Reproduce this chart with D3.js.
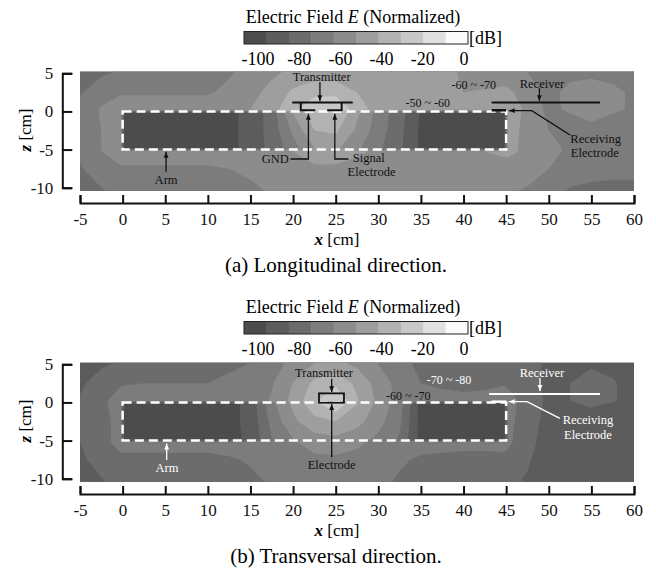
<!DOCTYPE html>
<html>
<head>
<meta charset="utf-8">
<script src="https://cdn.jsdelivr.net/npm/d3@7"></script>
<style>
  body { margin: 0; background: #fff; }
  svg text { font-family: 'Liberation Serif', 'Times New Roman', Times, serif; }
</style>
</head>
<body>
<script>
const gridX = [-5, -2.5, -0.25, 0.25, 2.5, 5, 7.5, 10, 12.5, 15, 17.5, 20, 22.5, 25, 27.5,
               30, 32.5, 35, 37.5, 40, 42.5, 44.75, 45.25, 47.5, 50, 52.5, 55, 57.5, 60];
const gridZ = [5.2, 2.5, 0.25, -0.25, -2.5, -4.75, -5.25, -7.5, -10.4];

// (a) longitudinal, dB, one row per gridZ
const longField = [
  [-76,-72,-69,-68.5,-67,-66,-65,-64,-61,-57,-52,-48,-46,-46,-46,-46,-47,-47,-48,-51,-55,-57,-58,-60,-62,-63,-64,-66,-68],
  [-71,-64,-61,-61,-61,-61,-61,-61,-58,-53,-47,-38,-33,-33,-40,-45,-46,-47,-48,-50,-49,-47,-48,-55,-63,-57,-52,-56,-63],
  [-67,-59,-55,-55,-55,-55,-55,-55,-54,-50,-44,-32,-22,-20,-35,-44,-46,-47,-48,-48,-46,-42,-44,-52,-63,-58,-52,-56,-63],
  [-67,-59,-55,-95,-95,-95,-95,-95,-93,-86,-76,-50,-32,-30,-48,-64,-76,-91,-95,-95,-95,-95,-44,-53,-62,-60,-57,-60,-64],
  [-68,-60,-56,-95,-95,-95,-95,-95,-93,-86,-76,-58,-40,-38,-52,-65,-77,-92,-95,-95,-95,-95,-46,-53,-60,-62,-63,-64,-66],
  [-68,-60,-56,-95,-95,-95,-95,-95,-93,-86,-77,-64,-50,-48,-58,-68,-78,-92,-95,-95,-95,-95,-48,-52,-57,-62,-64,-65,-66],
  [-68,-60,-56,-56,-56,-56,-56,-56,-55,-54,-52,-50,-47,-47,-49,-51,-52,-53,-53,-52,-50,-48,-48,-52,-57,-62,-64,-65,-66],
  [-71,-64,-61,-61,-61,-61,-61,-61,-60,-58,-55,-53,-51,-51,-52,-54,-55,-56,-56,-56,-55,-54,-54,-56,-60,-65,-67,-68,-68],
  [-76,-71,-67,-67,-66,-66,-66,-65,-64,-62,-59,-57,-56,-56,-57,-58,-58,-59,-59,-59,-59,-59,-59,-61,-66,-71,-72,-72,-72]
];

// (b) transversal
const transField = [
  [-86,-82,-79,-78.5,-77,-76,-75,-74,-72,-70,-64.5,-57,-50,-48,-52.5,-60.5,-67.5,-72,-73,-74,-75,-76,-76,-78,-81,-82,-82,-83,-85],
  [-82,-75,-71,-70.5,-70,-70,-70,-70,-68,-67,-61,-49.5,-37.5,-32,-42.5,-54,-64,-70,-71,-72,-72,-71,-72,-77,-82,-80,-75,-79,-84],
  [-79,-72,-66,-66,-66,-66,-66,-66,-65,-65,-59,-47,-32,-20,-39,-52.5,-63,-67,-68,-68,-67,-64,-66,-74,-82,-80,-75,-79,-84],
  [-79,-72,-66,-95,-95,-95,-95,-95,-93,-87,-63,-48,-33,-22,-40,-53,-66,-94,-95,-95,-95,-95,-66,-75,-82,-81,-79,-81,-84],
  [-80,-73,-67,-95,-95,-95,-95,-95,-93,-87,-67,-52,-43.5,-40,-46.5,-56.5,-68,-94,-95,-95,-95,-95,-67,-76,-83,-84,-84,-85,-86],
  [-80,-73,-67,-95,-95,-95,-95,-95,-93,-88,-70,-60,-53.5,-52,-55.5,-62,-71,-94,-95,-95,-95,-95,-68,-77,-84,-85,-86,-86,-87],
  [-80,-73,-67,-67,-67,-67,-67,-67,-66,-66,-64,-61,-56.5,-54.5,-58,-63,-66,-67,-67,-67,-67,-66,-68,-77,-84,-85,-86,-86,-87],
  [-82,-76,-72,-72,-72,-72,-72,-72,-71,-69,-67,-64,-62,-62,-63,-66,-69,-71,-72,-73,-73,-73,-74,-79,-85,-86,-87,-87,-88],
  [-86,-81,-77,-77,-76,-76,-76,-75,-74,-72,-69,-66,-64,-64,-66,-68,-71,-74,-76,-77,-77,-78,-78,-81,-86,-87,-87,-88,-88]
];

const levels = d3.range(-100, 0, 10);
const levelColors = ['#4c4c4c', '#5c5c5c', '#6c6c6c', '#7c7c7c', '#8c8c8c',
                     '#9e9e9e', '#b2b2b2', '#c8c8c8', '#e0e0e0', '#fafafa'];
const legendLabels = [-100, -80, -60, -40, -20, 0];
const xTicks = d3.range(-5, 61, 5);
const zTicks = [5, 0, -5, -10];

const serif = "'Liberation Serif', 'Times New Roman', Times, serif";

const svg = d3.select('body').append('svg')
  .attr('width', 656)
  .attr('height', 573)
  .attr('font-family', serif);

const defs = svg.append('defs');
['black', 'white'].forEach(c => {
  defs.append('marker')
    .attr('id', 'arrow-' + c)
    .attr('viewBox', '0 0 10 10')
    .attr('refX', 10).attr('refY', 5)
    .attr('markerWidth', 6).attr('markerHeight', 6)
    .attr('markerUnits', 'userSpaceOnUse')
    .attr('orient', 'auto')
    .append('path')
      .attr('d', 'M0,1L10,5L0,9Z')
      .attr('fill', c === 'black' ? '#111' : '#fff');
});

const x = d3.scaleLinear().domain([-5, 60]).range([80, 634]);

function colorBar(dy) {
  let g = svg.append('g');
  let cb = d3.scaleLinear().domain([-100, 0]).range([244, 468]);
  g.append('text')
    .attr('x', 353).attr('y', 17 + dy).attr('dy', '0.35em')
    .attr('text-anchor', 'middle').attr('font-size', 18)
    .html('Electric Field <tspan font-style="italic">E</tspan> (Normalized)');
  g.selectAll('rect.bin')
    .data(levels)
    .enter().append('rect')
      .attr('x', d => cb(d))
      .attr('y', 31.5 + dy)
      .attr('width', cb(10) - cb(0) + 0.5)
      .attr('height', 12.5)
      .attr('fill', (d, i) => levelColors[i]);
  g.append('rect')
    .attr('x', cb(-100)).attr('y', 31.5 + dy)
    .attr('width', cb(0) - cb(-100)).attr('height', 12.5)
    .attr('fill', 'none').attr('stroke', '#222').attr('stroke-width', 1);
  g.append('text')
    .attr('x', 469).attr('y', 38 + dy).attr('dy', '0.35em')
    .attr('font-size', 18).text('[dB]');
  let lbl = d3.scaleLinear().domain([-100, 0]).range([258, 464]);
  g.selectAll('text.lbl')
    .data(legendLabels)
    .enter().append('text')
      .attr('x', d => lbl(d))
      .attr('y', 59 + dy).attr('dy', '0.35em')
      .attr('text-anchor', 'middle').attr('font-size', 18)
      .text(d => String(d));
}

function drawPanel(dy, field, caption, id) {
  let z = d3.scaleLinear().domain([5, -10]).range([73.3 + dy, 187.7 + dy]);

  defs.append('clipPath').attr('id', id)
    .append('rect')
      .attr('x', x(-5)).attr('y', z(5.2))
      .attr('width', x(60) - x(-5)).attr('height', z(-10.4) - z(5.2));

  let gx = d3.scaleLinear().domain(gridX.map((d, i) => i + 0.5)).range(gridX);
  let gz = d3.scaleLinear().domain(gridZ.map((d, i) => i + 0.5)).range(gridZ);
  let proj = d3.geoTransform({
    point: function(px, py) { this.stream.point(x(gx(px)), z(gz(py))); }
  });
  let path = d3.geoPath(proj);

  let contours = d3.contours()
    .size([gridX.length, gridZ.length])
    .thresholds(levels)(field.flat());

  svg.append('g')
    .attr('clip-path', 'url(#' + id + ')')
    .selectAll('path')
    .data(contours)
    .enter().append('path')
      .attr('d', path)
      .attr('fill', (d, i) => levelColors[i]);

  // arm outline
  svg.append('rect')
    .attr('x', x(0)).attr('y', z(0))
    .attr('width', x(45) - x(0)).attr('height', z(-5) - z(0))
    .attr('fill', 'none').attr('stroke', '#fff')
    .attr('stroke-width', 2.5).attr('stroke-dasharray', '9,5');

  // axes
  let yAxis = d3.axisLeft(z).tickValues(zTicks).tickSize(-10).tickPadding(9)
    .tickFormat(d => String(d));
  svg.append('g')
    .attr('transform', 'translate(62.3,0)')
    .call(yAxis)
    .attr('font-family', serif).attr('font-size', 17)
    .call(g => g.selectAll('path,line').attr('stroke', '#111').attr('stroke-width', 2))
    .call(g => g.selectAll('text').attr('fill', '#111'));

  let xAxis = d3.axisBottom(x).tickValues(xTicks).tickSize(-8).tickPadding(10)
    .tickFormat(d => String(d));
  svg.append('g')
    .attr('transform', 'translate(0,' + (203 + dy) + ')')
    .call(xAxis)
    .attr('font-family', serif).attr('font-size', 17)
    .call(g => g.selectAll('path,line').attr('stroke', '#111').attr('stroke-width', 2))
    .call(g => g.selectAll('text').attr('fill', '#111'));

  svg.append('text')
    .attr('transform', 'translate(25,' + (130 + dy) + ')rotate(-90)')
    .attr('text-anchor', 'middle').attr('dy', '0.35em').attr('font-size', 17)
    .html('<tspan font-style="italic" font-weight="bold">z</tspan> [cm]');

  svg.append('text')
    .attr('x', 337).attr('y', 239.5 + dy).attr('dy', '0.35em')
    .attr('text-anchor', 'middle').attr('font-size', 17)
    .html('<tspan font-style="italic" font-weight="bold">x</tspan> [cm]');

  svg.append('text')
    .attr('x', 336).attr('y', 265 + dy).attr('dy', '0.35em')
    .attr('text-anchor', 'middle').attr('font-size', 21)
    .text(caption);

  return z;
}

function line(pts, z, color, width, arrow) {
  let l = d3.line().x(d => x(d[0])).y(d => z(d[1]));
  let p = svg.append('path')
    .attr('d', l(pts))
    .attr('fill', 'none').attr('stroke', color)
    .attr('stroke-width', width);
  if (arrow) p.attr('marker-end', 'url(#arrow-' + (color === '#fff' ? 'white' : 'black') + ')');
  return p;
}

function label(str, xc, zc, z, color, anchor, size) {
  svg.append('text')
    .attr('x', x(xc)).attr('y', z(zc)).attr('dy', '0.35em')
    .attr('text-anchor', anchor || 'middle')
    .attr('font-size', size || 12.5)
    .attr('fill', color)
    .text(str);
}

// ---- (a) ----
colorBar(0);
let za = drawPanel(0, longField, '(a) Longitudinal direction.', 'clipA');
const ink = '#111';
label('Transmitter', 23.35, 4.5, za, ink);
line([[23.15, 3.85], [23.15, 1.35]], za, ink, 1.3, true);
line([[19.9, 1.17], [27, 1.17]], za, ink, 2);
line([[20.9, 1.17], [20.9, 0.15], [22.6, 0.15]], za, ink, 2);
line([[24, 0.15], [25.7, 0.15], [25.7, 1.17]], za, ink, 2);
label('GND', 19.5, -6.24, za, ink, 'end');
line([[19.7, -6.24], [21.8, -6.24], [21.8, -0.3]], za, ink, 1.3, true);
line([[26.5, -6.24], [24.9, -6.24], [24.9, -0.3]], za, ink, 1.3, true);
label('Signal', 27.0, -6.1, za, ink, 'start');
label('Electrode', 26.4, -7.95, za, ink, 'start');
label('Arm', 5.1, -8.9, za, ink);
line([[5.1, -7.9], [5.1, -5.3]], za, ink, 1.3, true);
line([[43.3, 1.17], [56, 1.17]], za, ink, 2);
label('Receiver', 49.2, 3.6, za, ink);
line([[48.9, 3.05], [48.9, 1.35]], za, ink, 1.3, true);
line([[43.3, 0.15], [45, 0.15]], za, ink, 2.5);
line([[52.5, -3.1], [48.0, 0.1], [45.3, 0.1]], za, ink, 1.3, true);
label('Receiving', 55.5, -3.5, za, ink);
label('Electrode', 55.4, -5.45, za, ink);
label('-60 ~ -70', 41.2, 3.45, za, ink, 'middle', 12);
label('-50 ~ -60', 35.8, 1.1, za, ink, 'middle', 12);

// ---- (b) ----
colorBar(290);
let zb = drawPanel(291, transField, '(b) Transversal direction.', 'clipB');
label('Transmitter', 23.63, 3.85, zb, ink);
line([[24.53, 3.1], [24.53, 1.35]], zb, ink, 1.3, true);
svg.append('rect')
  .attr('x', x(23.04)).attr('y', zb(1.19))
  .attr('width', x(25.97) - x(23.04)).attr('height', zb(-0.04) - zb(1.19))
  .attr('fill', 'none').attr('stroke', ink).attr('stroke-width', 1.8);
line([[24.53, -7.2], [24.53, -0.2]], zb, ink, 1.3, true);
label('Electrode', 24.53, -8.2, zb, ink);
label('Arm', 5.2, -8.6, zb, '#fff');
line([[5.17, -7.55], [5.17, -5.4]], zb, '#fff', 1.3, true);
line([[43.0, 1.1], [56, 1.1]], zb, '#fff', 2);
label('Receiver', 49.2, 3.85, zb, '#fff');
line([[48.97, 3.2], [48.97, 1.5]], zb, '#fff', 1.3, true);
line([[43.3, 0.1], [45, 0.1]], zb, '#fff', 2.5);
line([[51.3, -2.08], [47.45, 0.1], [45.3, 0.1]], zb, '#fff', 1.3, true);
label('Receiving', 54.6, -2.3, zb, '#fff');
label('Electrode', 54.6, -4.25, zb, '#fff');
label('-70 ~ -80', 38.3, 2.94, zb, '#fff', 'middle', 12);
label('-60 ~ -70', 33.5, 0.84, zb, ink, 'middle', 12);
</script>
</body>
</html>
